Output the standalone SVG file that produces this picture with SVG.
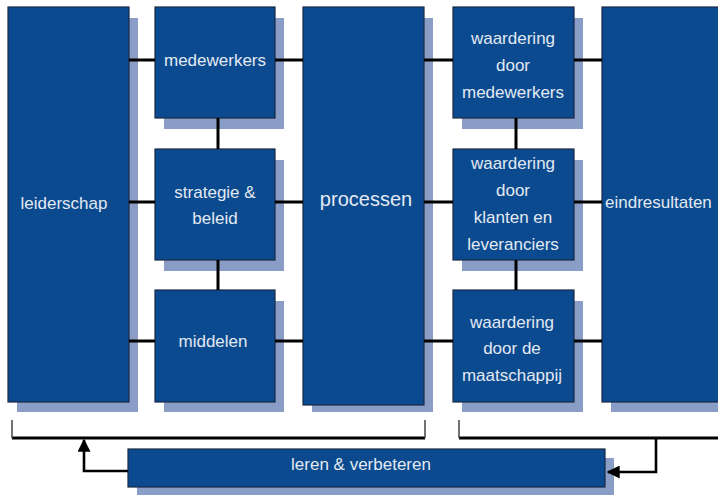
<svg xmlns="http://www.w3.org/2000/svg" width="718" height="495" viewBox="0 0 718 495">
<defs>
<style>
.sh{fill:#8a9dc6}
.bx{fill:#0b4a8e;stroke:#1a2844;stroke-width:1.2}
.t{fill:#e2e9f2;font-family:"Liberation Sans",Arial,sans-serif;font-size:17px;text-anchor:middle}
.big{font-size:20px}
.c{stroke:#000;stroke-width:3;fill:none}
.a{stroke:#000;stroke-width:2.6;fill:none}
.tick{stroke:#444;stroke-width:1.5;fill:none}
</style>
<marker id="ah" viewBox="0 0 10 10" refX="9" refY="5" markerWidth="5" markerHeight="5" orient="auto" markerUnits="strokeWidth">
<path d="M0,0 L10,5 L0,10 z" fill="#000"/>
</marker>
</defs>
<rect width="718" height="495" fill="#fff"/>

<g id="leiderschap">
<rect class="sh" x="17" y="18" width="121" height="394"/>
<rect class="bx" x="8" y="7" width="121" height="395"/>
<text class="t" x="64" y="209">leiderschap</text>
</g>
<g id="medewerkers">
<rect class="sh" x="164" y="18" width="120" height="111"/>
<rect class="bx" x="155" y="7" width="120" height="111"/>
<text class="t" x="215" y="66">medewerkers</text>
</g>
<g id="strategie">
<rect class="sh" x="164" y="160" width="120" height="111"/>
<rect class="bx" x="155" y="149" width="120" height="111"/>
<text class="t" x="215" y="198">strategie &amp;</text>
<text class="t" x="215" y="224">beleid</text>
</g>
<g id="middelen">
<rect class="sh" x="164" y="301" width="120" height="111"/>
<rect class="bx" x="155" y="290" width="120" height="112"/>
<text class="t" x="213" y="347">middelen</text>
</g>
<g id="processen">
<rect class="sh" x="312" y="18" width="121" height="394"/>
<rect class="bx" x="303" y="7" width="121" height="398"/>
<text class="t big" x="366" y="206">processen</text>
</g>
<g id="waardering-medewerkers">
<rect class="sh" x="462" y="18" width="121" height="111"/>
<rect class="bx" x="453" y="7" width="121" height="111"/>
<text class="t" x="513" y="44">waardering</text>
<text class="t" x="513" y="71">door</text>
<text class="t" x="513" y="98">medewerkers</text>
</g>
<g id="waardering-klanten">
<rect class="sh" x="462" y="160" width="121" height="111"/>
<rect class="bx" x="453" y="149" width="121" height="111"/>
<text class="t" x="513" y="169">waardering</text>
<text class="t" x="513" y="196">door</text>
<text class="t" x="513" y="223">klanten en</text>
<text class="t" x="513" y="250">leveranciers</text>
</g>
<g id="waardering-maatschappij">
<rect class="sh" x="462" y="301" width="121" height="111"/>
<rect class="bx" x="453" y="290" width="121" height="112"/>
<text class="t" x="512" y="328">waardering</text>
<text class="t" x="512" y="354">door de</text>
<text class="t" x="512" y="381">maatschappij</text>
</g>
<g id="eindresultaten">
<rect class="sh" x="611" y="18" width="120" height="394"/>
<rect class="bx" x="602" y="7" width="130" height="395"/>
<text class="t" x="605" y="208" style="text-anchor:start">eindresultaten</text>
</g>
<g id="leren">
<rect class="sh" x="137" y="458" width="477" height="40"/>
<rect class="bx" x="128" y="449" width="477" height="38"/>
<text class="t" x="361" y="470">leren &amp; verbeteren</text>
</g>

<g id="connectors">
<path class="c" d="M129,60H155M275,60H303M424,60H453M574,60H602"/>
<path class="c" d="M129,202H155M275,202H303M424,202H453M574,202H602"/>
<path class="c" d="M129,341H155M275,341H303M424,341H453M574,341H602"/>
<path class="c" d="M218,118V149M218,260V290M516,118V149M516,260V290"/>
<path class="c" d="M12,438H425M459,438H718"/>
<path class="tick" d="M12,420V438M425,420V438M459,420V438"/>
<path class="a" d="M656,438V472H608" marker-end="url(#ah)"/>
<path class="a" d="M128,471H84V440" marker-end="url(#ah)"/>
</g>
</svg>
